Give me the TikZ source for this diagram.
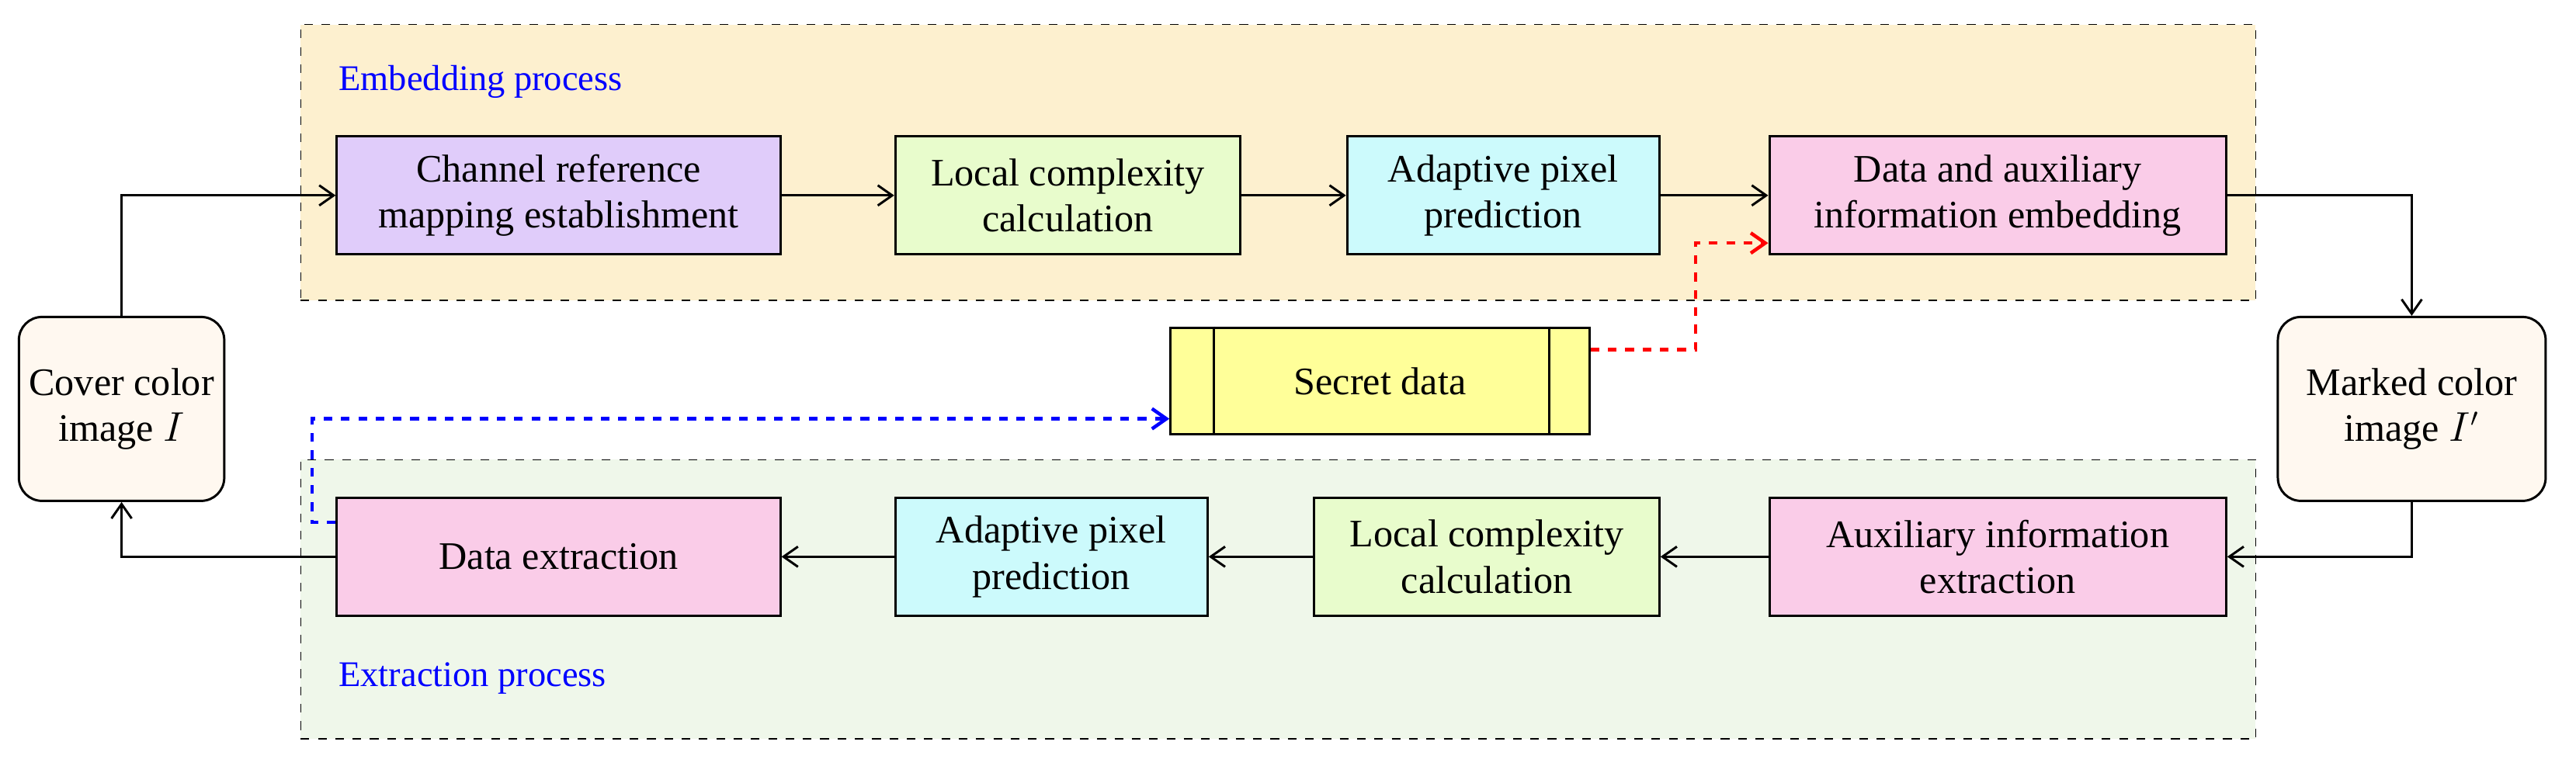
\documentclass[tikz,border=0pt]{standalone}
\usepackage{fontspec}
\setmainfont{Liberation Serif}
\usetikzlibrary{arrows.meta}
\definecolor{embF}{HTML}{FDF0CF}
\definecolor{extF}{HTML}{EFF7EA}
\definecolor{pur}{HTML}{E0CCFA}
\definecolor{grn}{HTML}{E8FCCC}
\definecolor{cyn}{HTML}{CCFAFC}
\definecolor{pnk}{HTML}{FACCE8}
\definecolor{ylw}{HTML}{FFFF99}
\definecolor{io}{HTML}{FFF8F0}
\begin{document}
\begin{tikzpicture}[x=0.02cm,y=-0.02cm,
  font=\fontsize{13.5}{16}\selectfont,
  blk/.style={draw,thick,align=center,inner sep=0pt},
  arr/.style={-{Straight Barb[length=5pt,width=7pt]},thick},
  dsh/.style={arr,dashed,very thick}]
\useasboundingbox (0,0) rectangle (1568,462);
\node[draw,dashed,fill=embF,minimum width=1190*0.02cm,minimum height=168*0.02cm,inner sep=0pt] (emb) at (778,99) {};
\node[draw,dashed,fill=extF,minimum width=1190*0.02cm,minimum height=170*0.02cm,inner sep=0pt] (ext) at (778,365) {};
\node[blue,anchor=west,font=\fontsize{12.5}{15}\selectfont] (el) at (200,50) {Embedding process};
\node[blue,anchor=west,font=\fontsize{12.5}{15}\selectfont] (xl) at (200,413) {Extraction process};
\tikzset{bx/.style={blk,minimum height=72*0.02cm}}
\node[bx,fill=pur,minimum width=270*0.02cm] (c1) at (340,119) {Channel reference\\mapping establishment};
\node[bx,fill=grn,minimum width=210*0.02cm] (c2) at (650,119) {Local complexity\\calculation};
\node[bx,fill=cyn,minimum width=190*0.02cm] (c3) at (915,119) {Adaptive pixel\\prediction};
\node[bx,fill=pnk,minimum width=278*0.02cm] (c4) at (1216,119) {Data and auxiliary\\information embedding};
\node[bx,fill=pnk,minimum width=270*0.02cm] (d1) at (340,339) {Data extraction};
\node[bx,fill=cyn,minimum width=190*0.02cm] (d2) at (640,339) {Adaptive pixel\\prediction};
\node[bx,fill=grn,minimum width=210*0.02cm] (d3) at (905,339) {Local complexity\\calculation};
\node[bx,fill=pnk,minimum width=278*0.02cm] (d4) at (1216,339) {Auxiliary information\\extraction};
\node[blk,rounded corners=8pt,fill=io,minimum width=125*0.02cm,minimum height=112*0.02cm] (cov) at (74,249) {Cover color\\image $I$};
\node[blk,rounded corners=8pt,fill=io,minimum width=163*0.02cm,minimum height=112*0.02cm] (mk) at (1468,249) {Marked color\\image $I'$};
\node[blk,fill=ylw,minimum width=255*0.02cm,minimum height=65*0.02cm] (sec) at (840,232) {Secret data};
\draw[thick] ([xshift=27*0.02cm]sec.north west) -- ([xshift=27*0.02cm]sec.south west);
\draw[thick] ([xshift=-25*0.02cm]sec.north east) -- ([xshift=-25*0.02cm]sec.south east);
\draw[arr] (cov.north) |- (c1.west);
\draw[arr] (c1) -- (c2);
\draw[arr] (c2) -- (c3);
\draw[arr] (c3) -- (c4);
\draw[arr] (c4.east) -| (mk.north);
\draw[arr] (mk.south) |- (d4.east);
\draw[arr] (d4) -- (d3);
\draw[arr] (d3) -- (d2);
\draw[arr] (d2) -- (d1);
\draw[arr] (d1.west) -| (cov.south);
\coordinate (r1) at (1032,213);
\coordinate (r2) at (1032,148);
\draw[dsh,red] (sec.east |- r1) -- (r1) -- (r2) -- (c4.west |- r2);
\coordinate (b1) at (190,318);
\coordinate (b2) at (190,255);
\draw[dsh,blue] (d1.west |- b1) -- (b1) -- (b2) -- (sec.west |- b2);
\end{tikzpicture}
\end{document}
